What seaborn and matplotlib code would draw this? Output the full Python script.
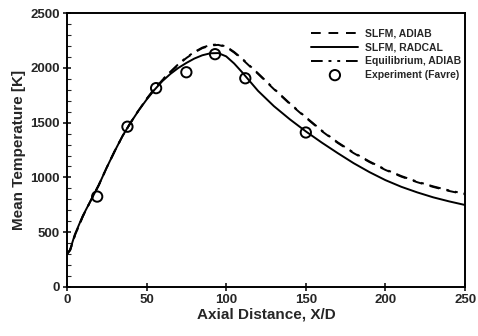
import matplotlib
matplotlib.use("Agg")
import matplotlib.pyplot as plt
import seaborn as sns
import pandas as pd
from matplotlib.ticker import MultipleLocator

# Curves
x_curve = [0, 2, 5, 10, 15, 20, 25, 30, 35, 40, 45, 50, 55, 60, 65, 70, 75, 80, 85, 90, 95,
           100, 105, 110, 115, 120, 130, 140, 150, 160, 170, 180, 190, 200, 210, 220, 230, 240, 250]
slfm_radcal = [300, 340, 480, 650, 790, 930, 1090, 1240, 1380, 1500, 1610, 1710, 1800, 1880, 1945, 2000, 2045, 2085, 2115, 2133, 2135,
               2105, 2040, 1960, 1875, 1790, 1650, 1530, 1420, 1318, 1222, 1130, 1048, 975, 914, 863, 818, 781, 748]
slfm_adiab = [300, 335, 470, 645, 790, 930, 1090, 1240, 1380, 1500, 1612, 1715, 1808, 1890, 1960, 2030, 2090, 2140, 2180, 2203, 2210,
              2190, 2140, 2080, 2012, 1945, 1805, 1670, 1545, 1423, 1315, 1222, 1140, 1068, 1007, 956, 913, 876, 845]
equil_adiab = [300, 335, 470, 645, 790, 930, 1090, 1240, 1380, 1500, 1612, 1717, 1810, 1893, 1965, 2035, 2095, 2145, 2185, 2208, 2215,
               2195, 2145, 2085, 2017, 1950, 1810, 1675, 1550, 1428, 1320, 1227, 1145, 1073, 1012, 961, 918, 881, 850]

# Experiment (Favre)
x_exp = [19, 38, 56, 75, 93, 112, 150]
t_exp = [825, 1463, 1815, 1960, 2125, 1905, 1410]

labels = ["SLFM, ADIAB", "SLFM, RADCAL", "Equilibrium, ADIAB", "Experiment (Favre)"]

sns.set_theme(style="ticks")
plt.rcParams["font.family"] = ["Liberation Sans", "DejaVu Sans"]
plt.rcParams["font.weight"] = "bold"

fig = plt.figure(figsize=(4.78, 3.36), dpi=100)
ax = fig.add_axes([0.140, 0.146, 0.833, 0.815])

df = pd.DataFrame({"x": x_curve, "a": slfm_adiab, "r": slfm_radcal, "e": equil_adiab})
sns.lineplot(data=df, x="x", y="a", ax=ax, color="black", lw=1.4, linestyle=(0, (5, 4)), label=labels[0])
sns.lineplot(data=df, x="x", y="r", ax=ax, color="black", lw=1.4, linestyle="-", label=labels[1])
sns.lineplot(data=df, x="x", y="e", ax=ax, color="black", lw=1.4, linestyle=(0, (6, 3, 1.5, 3, 1.5, 3)), label=labels[2])
sns.scatterplot(x=x_exp, y=t_exp, ax=ax, marker="o", s=55, facecolor="none", edgecolor="black", linewidth=1.4, label=labels[3], zorder=5)

ax.set_xlim(0, 250)
ax.set_ylim(0, 2500)
ax.xaxis.set_major_locator(MultipleLocator(50))
ax.yaxis.set_major_locator(MultipleLocator(500))
ax.yaxis.set_minor_locator(MultipleLocator(100))
ax.tick_params(which="major", direction="inout", length=6, width=1.3, labelsize=9.5, pad=2)
ax.tick_params(which="minor", direction="in", length=3, width=0.8)
for lab in ax.get_xticklabels() + ax.get_yticklabels():
    lab.set_fontweight("bold")
for s in ax.spines.values():
    s.set_linewidth(1.4)
    s.set_color("black")

ax.set_xlabel("Axial Distance, X/D", fontsize=11, fontweight="bold", labelpad=1)
ax.set_ylabel("Mean Temperature [K]", fontsize=11, fontweight="bold", labelpad=3)

leg = ax.legend(loc="upper right", bbox_to_anchor=(1.005, 0.965), frameon=False, fontsize=7.5,
                handlelength=4.5, handletextpad=0.6, labelspacing=0.35, borderaxespad=0.2)
for t in leg.get_texts():
    t.set_fontweight("bold")

fig.savefig("out.png", dpi=100)
